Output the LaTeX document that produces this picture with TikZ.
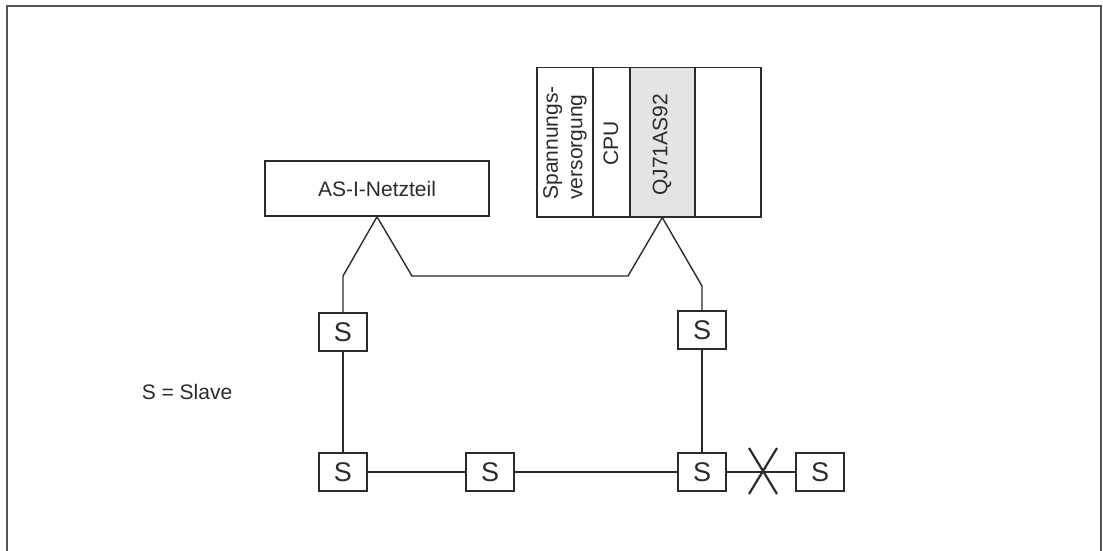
\documentclass[tikz,border=0pt]{standalone}
\usepackage{fontspec}
\setmainfont{Liberation Sans}
\definecolor{linec}{HTML}{2B2B2B}
\definecolor{framec}{HTML}{555555}
\definecolor{modgray}{HTML}{E4E4E4}
\begin{document}
\begin{tikzpicture}[x=1pt,y=-1pt,
  every node/.style={font=\fontsize{20.5}{23}\selectfont, text=linec},
  box/.style={draw=linec, line width=1.5pt, minimum width=48pt, minimum height=38pt, inner sep=0pt, font=\fontsize{27}{30}\selectfont},
  module/.style={draw=linec, line width=1.5pt, minimum height=149pt, inner sep=0pt, anchor=north west},
  wire/.style={draw=linec, line width=1.4pt},
  vlabel/.style={rotate=90, align=left, inner sep=0pt, font=\fontsize{21}{24.5}\selectfont}
]
\useasboundingbox (0,0) rectangle (1103,551);
\draw[framec, line width=2pt] (7,570) -- (7,6) -- (1101,6) -- (1101,570);

% PLC rack
\node[module, minimum width=56pt] (pw) at (536,67) {};
\node[module, minimum width=37pt] (cpu) at (592,67) {};
\node[module, minimum width=65pt, fill=modgray] (qj) at (629,67) {};
\node[module, minimum width=66pt] (emp) at (694,67) {};
\node[vlabel] (pwt) at (565,143) {Spannungs-\\versorgung};
\node[vlabel] (cput) at (611,143) {CPU};
\node[vlabel] (qjt) at (662,145) {QJ71AS92};

% power supply
\node[draw=linec, line width=1.5pt, minimum width=224pt, minimum height=55pt, inner sep=0pt, font=\fontsize{21}{24}\selectfont] (netz) at (377,188.5) {AS-I-Netzteil};

% slaves
\node[box] (s1) at (343,332) {S};
\node[box] (s2) at (702,330) {S};
\node[box] (s3) at (343,472) {S};
\node[box] (s4) at (490,472) {S};
\node[box] (s5) at (702,472) {S};
\node[box] (s6) at (820,472) {S};

\node[anchor=center, font=\fontsize{21}{24}\selectfont] (legend) at (187,392) {S = Slave};

% wiring
\coordinate (a1) at (343,276);
\coordinate (a2) at (412,276);
\coordinate (a3) at (628,276);
\coordinate (a4) at (702,286);
\path[wire] (netz.south) -- (a1) -- (s1.north);
\path[wire] (netz.south) -- (a2) -- (a3) -- (qj.south);
\path[wire] (qj.south) -- (a4) -- (s2.north);
\path[wire] (s1.south) -- (s3.north);
\path[wire] (s2.south) -- (s5.north);
\path[wire] (s3.east) -- (s4.west);
\path[wire] (s4.east) -- (s5.west);
\path[wire] (s5.east) -- (s6.west);

% break mark
\coordinate (x1) at (749,448);
\coordinate (x2) at (777,494);
\coordinate (x3) at (777,448);
\coordinate (x4) at (749,494);
\path[wire, line width=2.2pt] (x1) -- (x2);
\path[wire, line width=2.2pt] (x3) -- (x4);
\end{tikzpicture}
\end{document}
